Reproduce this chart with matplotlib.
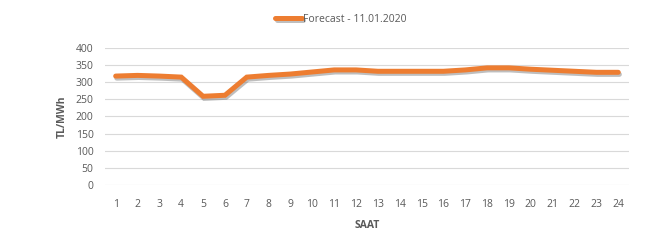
import matplotlib
matplotlib.use("Agg")
import matplotlib.pyplot as plt
import matplotlib.patheffects as pe

hours = list(range(1, 25))
forecast = [318, 320, 318, 315, 259, 262, 315, 320, 324, 330, 336, 336,
            332, 332, 332, 332, 336, 342, 342, 338, 335, 332, 329, 329]
yticks = [0, 50, 100, 150, 200, 250, 300, 350, 400]
series_label = "Forecast - 11.01.2020"

plt.rcParams['font.family'] = ['Open Sans', 'DejaVu Sans']
fig = plt.figure(figsize=(6.63, 2.43), dpi=100)
ax = fig.add_axes([0.158, 0.2387, 0.791, 0.5638])

x = list(range(len(hours)))
ax.plot(x, forecast, color='#ED7D31', lw=3.6, solid_capstyle='round',
        solid_joinstyle='miter', label=series_label,
        path_effects=[pe.SimpleLineShadow(offset=(0.8, -1.5), shadow_color='#7f7f7f', alpha=0.5),
                      pe.Normal()])
ax.set_xlim(-0.5, len(hours) - 0.5)
ax.set_ylim(0, 400)
ax.set_yticks(yticks)
ax.set_xticks(x)
ax.set_xticklabels([str(h) for h in hours])
ax.grid(axis='y', color='#d9d9d9', lw=0.8)
ax.set_axisbelow(True)
for s in ax.spines.values():
    s.set_visible(False)
ax.tick_params(length=0, labelsize=7.5, colors='#595959', pad=10)
ax.tick_params(axis='y', pad=8)
ax.set_ylabel('TL/MWh', fontsize=7.5, fontweight='bold', color='#595959', labelpad=6)
ax.set_xlabel('SAAT', fontsize=7.5, fontweight='bold', color='#595959', labelpad=7)
leg = fig.legend(loc='center', bbox_to_anchor=(0.514, 0.92), frameon=False,
                 fontsize=7.5, handlelength=2.5, handletextpad=0.1)
for t in leg.get_texts():
    t.set_color('#595959')
fig.savefig('out.png', dpi=100)
